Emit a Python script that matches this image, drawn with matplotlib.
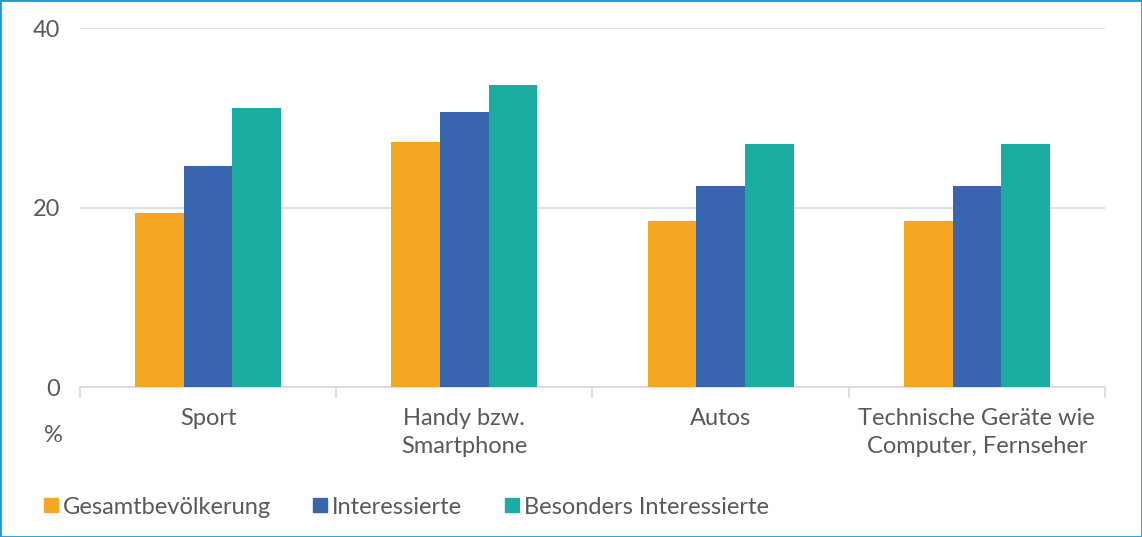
import matplotlib.pyplot as plt
import numpy as np
from matplotlib.patches import Rectangle
from matplotlib.lines import Line2D

categories = ["Sport", "Handy bzw.\nSmartphone", "Autos", "Technische Geräte wie\nComputer, Fernseher"]
series_names = ["Gesamtbevölkerung", "Interessierte", "Besonders Interessierte"]
gesamt = [19.4, 27.3, 18.5, 18.5]
interessierte = [24.6, 30.6, 22.4, 22.4]
besonders = [31.1, 33.6, 27.1, 27.1]
colors = ["#f5a623", "#3a64ae", "#1aaca0"]

plt.rcParams['font.family'] = ['Lato', 'DejaVu Sans']
text_col = "#595959"
fs = 17

fig = plt.figure(figsize=(11.42, 5.37), dpi=100)
ax = fig.add_axes([0.070, 0.2793, 0.8976, 0.6685])

x = np.arange(len(categories))
w = 0.19
for i, vals in enumerate([gesamt, interessierte, besonders]):
    ax.bar(x + (i - 1) * w, vals, width=w, color=colors[i], zorder=3)

ax.set_xlim(-0.5, len(categories) - 0.5)
ax.set_ylim(0, 40)
ax.set_yticks([0, 20, 40])
ax.yaxis.grid(True, color="#d9d9d9", linewidth=1.2, zorder=0)
for s in ["top", "right", "left"]:
    ax.spines[s].set_visible(False)
ax.spines["bottom"].set_color("#d9d9d9")
ax.spines["bottom"].set_linewidth(1.2)
ax.tick_params(axis="y", length=0, pad=14, labelsize=fs, labelcolor=text_col)

# category labels centred, ticks on group boundaries
ax.set_xticks(x)
ax.set_xticklabels(categories)
ax.tick_params(axis="x", which="major", length=0, pad=15, labelsize=fs, labelcolor=text_col)
ax.set_xticks(np.arange(-0.5, len(categories)), minor=True)
ax.tick_params(axis="x", which="minor", length=8, width=1.2, color="#d9d9d9")
for lbl in ax.get_xticklabels():
    lbl.set_linespacing(1.4)

fig.text(53 / 1142, 1 - 436 / 537, "%", fontsize=fs, color=text_col, ha="center", va="center")

handles = [Line2D([0], [0], marker="s", linestyle="none", markersize=10,
                  markerfacecolor=c, markeredgecolor=c) for c in colors]
fig.legend(handles, series_names, loc="center left", bbox_to_anchor=(20 / 1142, 1 - 507 / 537),
           ncol=3, frameon=False, fontsize=fs, labelcolor=text_col,
           handletextpad=0.1, columnspacing=1.7, handlelength=0.8)

fig.patches.append(Rectangle((0, 0), 1, 1, transform=fig.transFigure, fill=False,
                             edgecolor="#1a9bd7", linewidth=2))

fig.savefig("out.png", dpi=100)
